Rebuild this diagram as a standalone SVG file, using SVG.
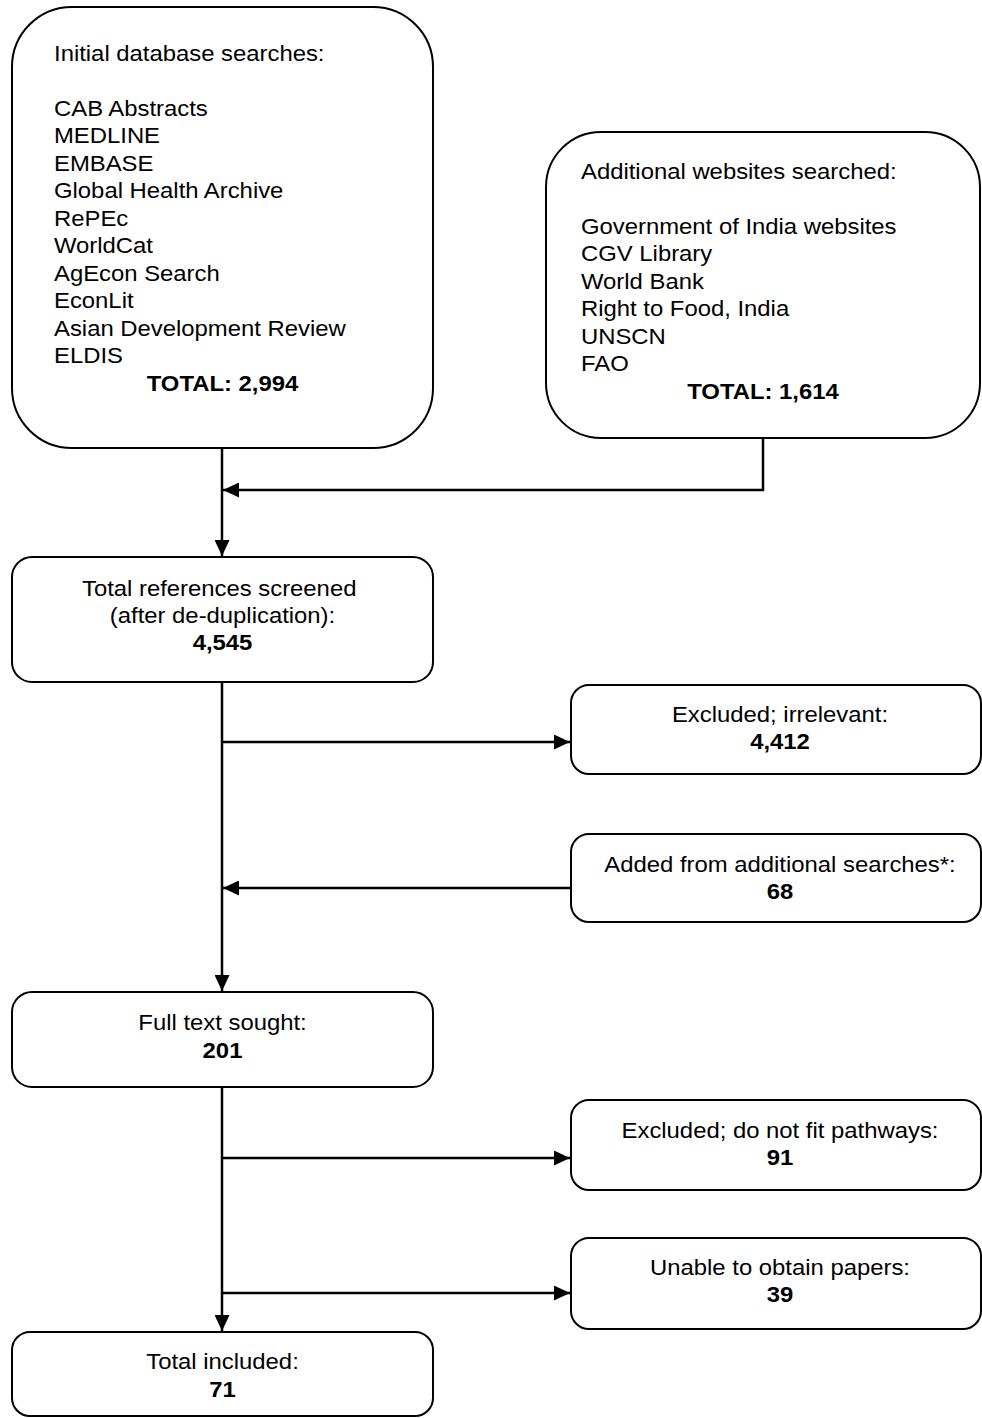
<svg xmlns="http://www.w3.org/2000/svg" width="982" height="1418" viewBox="0 0 982 1418">
<style>
.box{fill:#fff;stroke:#000;stroke-width:2}
.conn{fill:none;stroke:#000;stroke-width:2.5}
text{font-family:"Liberation Sans",Arial,Helvetica,sans-serif;font-size:22px;fill:#000}
.c{text-anchor:middle}
.b{font-weight:bold}
</style>
<defs>
<marker id="ah" markerUnits="userSpaceOnUse" markerWidth="16" markerHeight="15" refX="16" refY="7.5" orient="auto">
<path d="M0,0 L16,7.5 L0,15 z" fill="#000"/>
</marker>
</defs>
<rect width="982" height="1418" fill="#fff"/>
<g id="connectors">
<path class="conn" d="M222,448 V556" marker-end="url(#ah)"/>
<path class="conn" d="M763,438 V490 H223" marker-end="url(#ah)"/>
<path class="conn" d="M222,682 V991" marker-end="url(#ah)"/>
<path class="conn" d="M222,742 H570" marker-end="url(#ah)"/>
<path class="conn" d="M571,888 H223" marker-end="url(#ah)"/>
<path class="conn" d="M222,1087 V1331" marker-end="url(#ah)"/>
<path class="conn" d="M222,1158 H570" marker-end="url(#ah)"/>
<path class="conn" d="M222,1293 H570" marker-end="url(#ah)"/>
</g>
<g id="initial-searches">
<rect class="box" x="12" y="7" width="421" height="441" rx="60" ry="60"/>
<text transform="matrix(1.085 0 0 1 54 0)">
<tspan x="0" y="61">Initial database searches:</tspan>
<tspan x="0" y="116">CAB Abstracts</tspan>
<tspan x="0" y="143.5">MEDLINE</tspan>
<tspan x="0" y="171">EMBASE</tspan>
<tspan x="0" y="198.5">Global Health Archive</tspan>
<tspan x="0" y="226">RePEc</tspan>
<tspan x="0" y="253.5">WorldCat</tspan>
<tspan x="0" y="281">AgEcon Search</tspan>
<tspan x="0" y="308.5">EconLit</tspan>
<tspan x="0" y="336">Asian Development Review</tspan>
<tspan x="0" y="363.5">ELDIS</tspan>
</text>
<text class="c b" transform="matrix(1.085 0 0 1 222.5 0)" x="0" y="391">TOTAL: 2,994</text>
</g>
<g id="additional-websites">
<rect class="box" x="546" y="132" width="434" height="306" rx="55" ry="55"/>
<text transform="matrix(1.085 0 0 1 581 0)">
<tspan x="0" y="179">Additional websites searched:</tspan>
<tspan x="0" y="234">Government of India websites</tspan>
<tspan x="0" y="261.5">CGV Library</tspan>
<tspan x="0" y="289">World Bank</tspan>
<tspan x="0" y="316.5">Right to Food, India</tspan>
<tspan x="0" y="344">UNSCN</tspan>
<tspan x="0" y="371.5">FAO</tspan>
</text>
<text class="c b" transform="matrix(1.085 0 0 1 763 0)" x="0" y="399">TOTAL: 1,614</text>
</g>
<g id="screened">
<rect class="box" x="12" y="557" width="421" height="125" rx="20" ry="20"/>
<text class="c" transform="matrix(1.085 0 0 1 222.5 0)">
<tspan x="0" y="596">Total references screened</tspan>
<tspan x="0" y="623">(after de-duplication):</tspan>
</text>
<text class="c b" transform="matrix(1.085 0 0 1 222.5 0)" x="0" y="650">4,545</text>
</g>
<g id="excluded-irrelevant">
<rect class="box" x="571" y="685" width="410" height="89" rx="18" ry="18"/>
<text class="c" transform="matrix(1.085 0 0 1 780 0)" x="0" y="722">Excluded; irrelevant:</text>
<text class="c b" transform="matrix(1.085 0 0 1 780 0)" x="0" y="749">4,412</text>
</g>
<g id="added">
<rect class="box" x="571" y="834" width="410" height="88" rx="18" ry="18"/>
<text class="c" transform="matrix(1.085 0 0 1 780 0)" x="0" y="872">Added from additional searches*:</text>
<text class="c b" transform="matrix(1.085 0 0 1 780 0)" x="0" y="899">68</text>
</g>
<g id="full-text">
<rect class="box" x="12" y="992" width="421" height="95" rx="20" ry="20"/>
<text class="c" transform="matrix(1.085 0 0 1 222.5 0)" x="0" y="1030">Full text sought:</text>
<text class="c b" transform="matrix(1.085 0 0 1 222.5 0)" x="0" y="1058">201</text>
</g>
<g id="excluded-pathways">
<rect class="box" x="571" y="1100" width="410" height="90" rx="18" ry="18"/>
<text class="c" transform="matrix(1.085 0 0 1 780 0)" x="0" y="1138">Excluded; do not fit pathways:</text>
<text class="c b" transform="matrix(1.085 0 0 1 780 0)" x="0" y="1165">91</text>
</g>
<g id="unable">
<rect class="box" x="571" y="1238" width="410" height="91" rx="18" ry="18"/>
<text class="c" transform="matrix(1.085 0 0 1 780 0)" x="0" y="1275">Unable to obtain papers:</text>
<text class="c b" transform="matrix(1.085 0 0 1 780 0)" x="0" y="1302">39</text>
</g>
<g id="included">
<rect class="box" x="12" y="1332" width="421" height="84" rx="18" ry="18"/>
<text class="c" transform="matrix(1.085 0 0 1 222.5 0)" x="0" y="1369">Total included:</text>
<text class="c b" transform="matrix(1.085 0 0 1 222.5 0)" x="0" y="1397">71</text>
</g>
</svg>
